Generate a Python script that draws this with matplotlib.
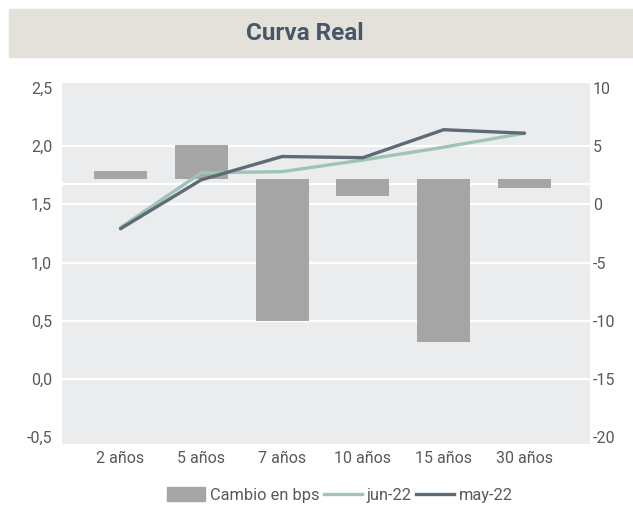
import numpy as np
import matplotlib.pyplot as plt
from matplotlib.patches import Rectangle, Patch
from matplotlib.lines import Line2D

plt.rcParams['font.family'] = ['Roboto', 'DejaVu Sans']

plazos = ['2 años', '5 años', '7 años', '10 años', '15 años', '30 años']
cambio_bps = [0.7, 2.9, -12.2, -1.4, -14.0, -0.75]   # barras (eje derecho)
jun_22 = [1.30, 1.77, 1.78, 1.88, 1.99, 2.11]
may_22 = [1.29, 1.71, 1.91, 1.90, 2.14, 2.11]
ticks_izq = [-0.5, 0.0, 0.5, 1.0, 1.5, 2.0, 2.5]
ticks_der = [-20, -15, -10, -5, 0, 5, 10]

gris_txt = '#595959'
fondo = '#EBECEE'

fig = plt.figure(figsize=(6.33, 5.07), dpi=100)

# caja del titulo
fig.patches.append(Rectangle((9 / 633, 450 / 507), 624 / 633, 48 / 507,
                             transform=fig.transFigure, color='#E4E1DB', zorder=0))
fig.text(305 / 633, 474 / 507, 'Curva Real', ha='center', va='center',
         fontsize=17.5, fontweight='bold', color='#475669')

pos = [62 / 633, 63 / 507, 528 / 633, 361 / 507]
ax = fig.add_axes(pos)
ax2 = ax.twinx()
ax.set_zorder(ax2.get_zorder() + 1)
ax.patch.set_visible(False)
ax2.patch.set_visible(True)
ax2.set_facecolor(fondo)

x = np.arange(len(plazos))

# barras en el eje derecho
for v in ticks_der[1:-1]:
    ax2.axhline(v, color='white', lw=1.6, zorder=0)
ax2.axhline(1.78, color='white', lw=1.6, zorder=0)
ax2.bar(x, cambio_bps, width=0.656, bottom=2.15, color='#A5A5A5', zorder=2)
ax2.set_ylim(-20.58, 10.41)
ax2.set_yticks(ticks_der)
ax2.set_yticklabels([str(t) for t in ticks_der])

# curvas en el eje izquierdo
ax.plot(x, jun_22, color='#9DC4B5', lw=2.4, solid_capstyle='round', zorder=3)
ax.plot(x, may_22, color='#5E6B76', lw=2.4, solid_capstyle='round', zorder=4)
ax.set_ylim(-0.558, 2.541)
ax.set_yticks(ticks_izq)
ax.set_yticklabels([f'{t:.1f}'.replace('.', ',') for t in ticks_izq])
ax.set_xlim(-0.724, 5.811)
ax.set_xticks(x)
ax.set_xticklabels(plazos)

for a in (ax, ax2):
    for s in a.spines.values():
        s.set_visible(False)
    a.tick_params(length=0, labelsize=11.5, labelcolor=gris_txt)
ax.tick_params(axis='y', pad=7)
ax.tick_params(axis='x', pad=5)
ax2.tick_params(axis='y', pad=2)

handles = [Patch(color='#A5A5A5'),
           Line2D([], [], color='#9DC4B5', lw=2.4),
           Line2D([], [], color='#5E6B76', lw=2.4)]
fig.legend(handles, ['Cambio en bps', 'jun-22', 'may-22'], loc='center',
           bbox_to_anchor=(340 / 633, 12 / 507), ncol=3, frameon=False,
           fontsize=11.8, labelcolor=gris_txt, handlelength=2.3, handletextpad=0.3,
           columnspacing=0.3, handleheight=0.9)

fig.savefig('out.png', dpi=100)
